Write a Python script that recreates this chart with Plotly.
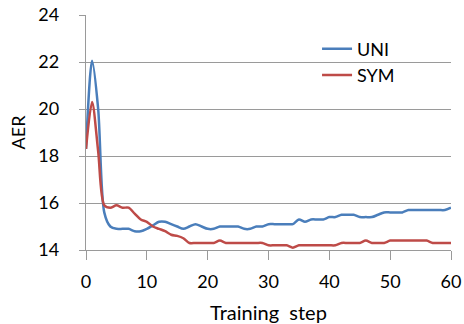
import plotly.graph_objects as go

steps = list(range(0, 61))
uni = [18.3, 22.05, 20.0, 15.6, 15.0, 14.9, 14.9, 14.9, 14.8, 14.8,
       14.9, 15.05, 15.2, 15.2, 15.1, 15.0, 14.9, 15.0, 15.1, 15.0,
       14.9, 14.9, 15.0, 15.0, 15.0, 15.0, 14.9, 14.9, 15.0, 15.0,
       15.1, 15.1, 15.1, 15.1, 15.1, 15.3, 15.2, 15.3, 15.3, 15.3,
       15.4, 15.4, 15.5, 15.5, 15.5, 15.4, 15.4, 15.4, 15.5, 15.6,
       15.6, 15.6, 15.6, 15.7, 15.7, 15.7, 15.7, 15.7, 15.7, 15.7,
       15.8]
sym = [18.3, 20.3, 18.2, 15.9, 15.8, 15.9, 15.8, 15.8, 15.55, 15.3,
       15.2, 15.0, 14.9, 14.8, 14.65, 14.6, 14.5, 14.3, 14.3, 14.3,
       14.3, 14.3, 14.4, 14.3, 14.3, 14.3, 14.3, 14.3, 14.3, 14.3,
       14.2, 14.2, 14.2, 14.2, 14.1, 14.2, 14.2, 14.2, 14.2, 14.2,
       14.2, 14.2, 14.3, 14.3, 14.3, 14.3, 14.4, 14.3, 14.3, 14.3,
       14.4, 14.4, 14.4, 14.4, 14.4, 14.4, 14.4, 14.3, 14.3, 14.3,
       14.3]
x_ticks = [0, 10, 20, 30, 40, 50, 60]
y_ticks = [14, 16, 18, 20, 22, 24]

FONT = "Lato"
fig = go.Figure()
fig.add_trace(go.Scatter(x=steps, y=uni, name="UNI", mode="lines",
                         line=dict(color="#4A7EBB", width=2.5, shape="spline", smoothing=0.8)))
fig.add_trace(go.Scatter(x=steps, y=sym, name="SYM", mode="lines",
                         line=dict(color="#BE4B48", width=2.5, shape="spline", smoothing=0.8)))

fig.update_layout(
    width=464, height=324,
    margin=dict(l=86, r=13, t=15, b=74, autoexpand=False),
    paper_bgcolor="white", plot_bgcolor="white",
    font=dict(family=FONT, size=18, color="black"),
    showlegend=True,
    legend=dict(x=0.633, y=0.934, xanchor="left", yanchor="top",
                bgcolor="rgba(0,0,0,0)", font=dict(size=18, family=FONT),
                itemwidth=30, tracegroupgap=0),
    xaxis=dict(range=[0, 60], tickvals=x_ticks, showgrid=False,
               showline=True, linecolor="#9a9a9a", linewidth=1.3,
               ticks="outside", ticklen=9, tickcolor="#9a9a9a",
               tickfont=dict(size=18, family=FONT), ticklabelstandoff=6,
               title=dict(text="Training  step", font=dict(size=20, family=FONT), standoff=16),
               zeroline=False, automargin=False),
    yaxis=dict(range=[14, 24], tickvals=y_ticks, showgrid=True,
               gridcolor="#9a9a9a", gridwidth=1.3,
               showline=True, linecolor="#9a9a9a", linewidth=1.3,
               ticks="outside", ticklen=6, tickcolor="#9a9a9a",
               tickfont=dict(size=18, family=FONT), ticklabelstandoff=16,
               title=dict(text="AER", font=dict(size=18, family=FONT), standoff=8),
               zeroline=False, automargin=False),
)

fig.write_html("out.html", config={"displayModeBar": False},
               post_script="document.body.style.margin='0';")
